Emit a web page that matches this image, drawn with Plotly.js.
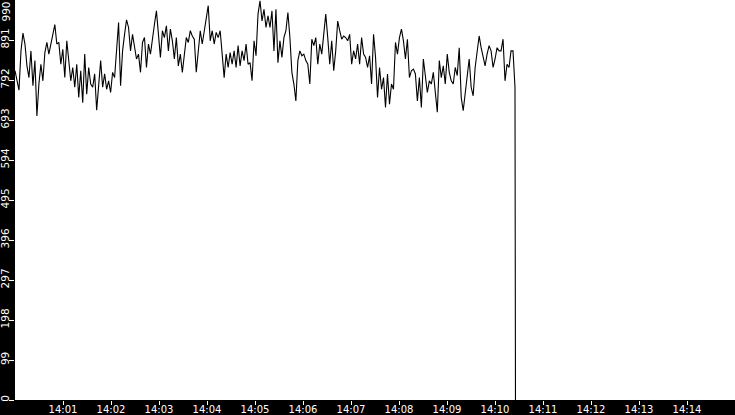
<!DOCTYPE html>
<html>
<head>
<meta charset="utf-8">
<script src="https://cdn.plot.ly/plotly-3.0.1.min.js"></script>
<style>
  html, body { margin: 0; padding: 0; background: #000; }
  #chart { width: 735px; height: 415px; }
</style>
</head>
<body>
<div id="chart"></div>
<script>
// sampled values, one every stepSeconds from startTime
var startTime = Date.UTC(2000, 0, 1, 14, 0, 0);
var stepSeconds = 2.49;
var rate = [
  815,790,767,864,908,881,827,798,864,778, 840,703,782,831,790,860,885,856,885,905,
  929,881,885,831,868,798,889,836,790,823, 774,831,749,815,736,856,757,823,782,774,
  807,717,782,840,774,807,769,790,761,811, 798,864,934,778,864,905,941,922,864,905,
  872,844,856,811,885,
  897,823,881,856,897,930,963,905,848,914, 897,926,864,918,889,844,897,827,856,811,
  864,897,885,914,901,893,811,856,914,881, 910,938,976,889,914,881,910,897,914,856,
  798,856,823,860,831,864,823,877,827,864, 840,881,831,835,790,889,852,955,988,938,
  967,922,951,
  922,963,864,967,835,889,848,897,914,959, 897,811,782,740,840,864,852,856,840,831,
  782,893,877,897,831,881,856,914,955,897, 831,889,815,864,938,914,893,901,897,889,
  905,831,864,844,881,831,897,856,848,823, 852,782,905,848,749,823,769,798,724,807,
  732,782,769,
  885,856,897,918,889,844,893,798,815,819, 807,740,798,724,844,803,761,790,782,811,
  769,712,840,798,827,782,856,811,790,782, 823,803,872,749,716,757,807,844,774,753,
  823,864,901,872,852,827,856,877,864,823, 844,872,864,864,893,790,831,823,864,864,
  774
];
// the drop at the end of the run
var dropTimes = ['2000-01-01 14:10:25.3', '2000-01-01 14:10:25.6'];
var dropValues = [404, 0];

var xRange = ['2000-01-01 14:00:00', '2000-01-01 14:15:00'];
var xTickVals = ['14:01','14:02','14:03','14:04','14:05','14:06','14:07',
                 '14:08','14:09','14:10','14:11','14:12','14:13','14:14'];
var yTickVals = [0, 99, 198, 297, 396, 495, 594, 693, 792, 891];
var yTopLabel = '990';

var xs = [];
for (var i = 0; i < rate.length; i++) {
  xs.push(startTime + i * stepSeconds * 1000);
}
var ys = rate.slice();
dropTimes.forEach(function(t, k) {
  xs.push(Date.parse(t.replace(' ', 'T') + 'Z'));
  ys.push(dropValues[k]);
});

var tickFont = { family: 'DejaVu Sans', size: 10.5, color: '#fff' };

var trace = {
  x: xs,
  y: ys,
  type: 'scatter',
  mode: 'lines',
  line: { color: '#000', width: 1.1 },
  hoverinfo: 'skip'
};

var layout = {
  width: 735,
  height: 415,
  margin: { l: 15, r: 0, t: 0, b: 15, pad: 0 },
  paper_bgcolor: '#000',
  plot_bgcolor: '#fff',
  showlegend: false,
  xaxis: {
    type: 'date',
    range: xRange,
    tickvals: xTickVals.map(function(t) { return '2000-01-01 ' + t; }),
    ticktext: xTickVals,
    ticks: 'outside',
    ticklen: 4,
    tickwidth: 1,
    tickcolor: '#fff',
    tickfont: { family: 'DejaVu Sans', size: 10, color: '#fff' },
    ticklabelstandoff: -4,
    showgrid: false,
    zeroline: false,
    showline: false
  },
  yaxis: {
    range: [0, 990],
    tickvals: yTickVals,
    ticktext: yTickVals.map(String),
    tickangle: -90,
    ticks: 'outside',
    ticklen: 5,
    tickwidth: 1,
    tickcolor: '#fff',
    tickfont: tickFont,
    ticklabelstandoff: -4,
    showgrid: false,
    zeroline: false,
    showline: false
  },
  annotations: [{
    xref: 'paper', yref: 'paper',
    x: 0, y: 1,
    xanchor: 'center', yanchor: 'top',
    xshift: -9.5,
    text: yTopLabel,
    textangle: -90,
    font: tickFont,
    showarrow: false
  }]
};

Plotly.newPlot('chart', [trace], layout, { staticPlot: true, displayModeBar: false });
</script>
</body>
</html>
